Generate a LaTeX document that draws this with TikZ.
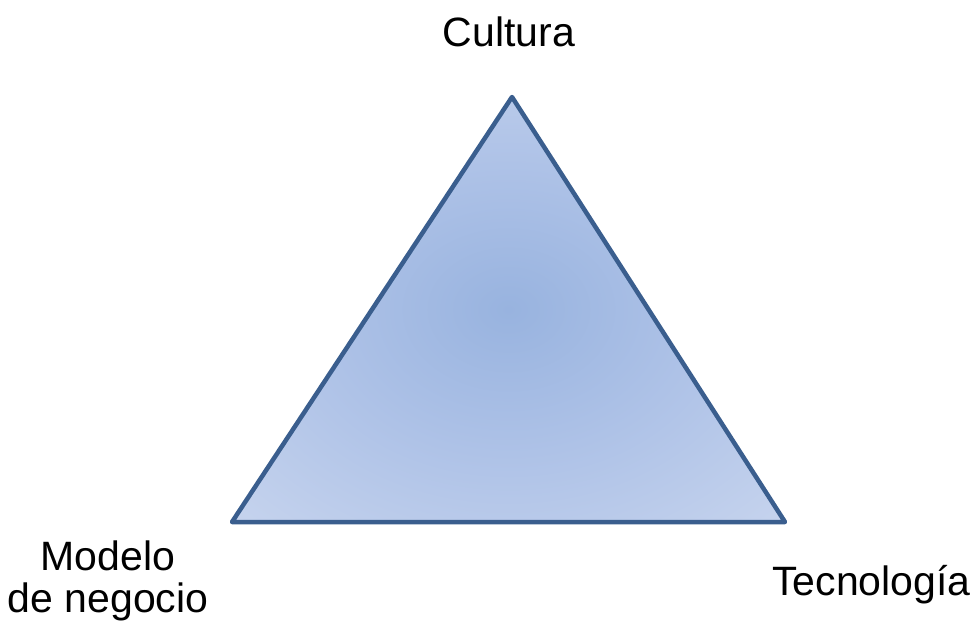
\documentclass[tikz,border=0pt]{standalone}
\usepackage{fontspec}
\setmainfont{Liberation Sans}
\usepackage{xcolor}
\usepackage{tikz}

\definecolor{triline}{HTML}{3A5E8E}
\definecolor{tricenter}{HTML}{98B3DF}
\definecolor{trimid}{HTML}{AEC2E7}
\definecolor{triouter}{HTML}{C4D2ED}
\definecolor{triedge}{HTML}{D9E1F3}
\pgfdeclareradialshading{triglow}{\pgfpoint{0bp}{0bp}}{%
  color(0bp)=(tricenter); color(17bp)=(trimid); color(34bp)=(triouter); color(50bp)=(triedge)}

\begin{document}
\begin{tikzpicture}[x=1pt, y=-1pt,
    vlabel/.style={font=\fontsize{41}{42}\selectfont, inner sep=0pt, align=center}]
        % Fix the page size
        \useasboundingbox (0,0) rectangle (975,632);

        % Corners of the triangle
        \coordinate (top) at (512,97);
        \coordinate (left) at (232,522);
        \coordinate (right) at (785,522);

        % Shaded triangle with its outline
        \shade[shading=triglow] (top) -- (left) -- (right) -- cycle;
        \draw[triline, line width=4.5pt, line join=round] (top) -- (left) -- (right) -- cycle;

        % Labels at the corners
        \node[vlabel, anchor=base] (cultura) at (509,46) {Cultura};
        \node[vlabel, anchor=base] (modelo) at (108,612) {Modelo\\de negocio};
        \node[vlabel, anchor=base west] (tecno) at (772,595) {Tecnología};
    \end{tikzpicture}
\end{document}
